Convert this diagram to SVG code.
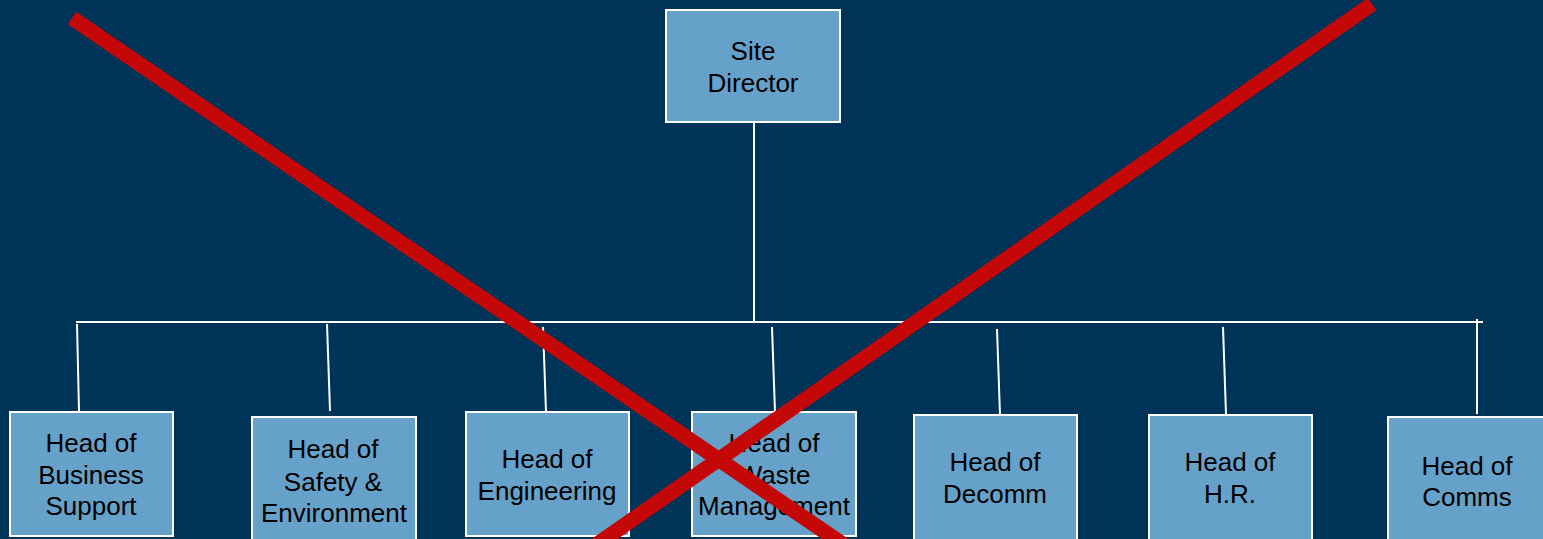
<svg xmlns="http://www.w3.org/2000/svg" width="1543" height="539" viewBox="0 0 1543 539">
<style>
.box{fill:#66A1C9;stroke:#FFFFFF;stroke-width:2}
.lbl{font-family:"Liberation Sans",Arial,sans-serif;font-size:26px;fill:#000000;text-anchor:middle}
.conn{stroke:#FFFFFF;stroke-width:2;fill:none}
.cross{stroke:#C40808;stroke-width:15;stroke-linecap:butt;fill:none}
</style>
<rect x="0" y="0" width="1543" height="539" fill="#003358"/>
<g id="connectors">
<line class="conn" x1="754" y1="122" x2="754" y2="322"/>
<line class="conn" x1="76" y1="322" x2="1483" y2="322"/>
<line class="conn" x1="77" y1="324" x2="79" y2="411"/>
<line class="conn" x1="327" y1="324" x2="330" y2="411"/>
<line class="conn" x1="543" y1="327" x2="546" y2="412"/>
<line class="conn" x1="772" y1="327" x2="775" y2="412"/>
<line class="conn" x1="997" y1="329" x2="1000" y2="415"/>
<line class="conn" x1="1223" y1="327" x2="1226" y2="414"/>
<line class="conn" x1="1477" y1="319" x2="1477" y2="414"/>
</g>
<g id="site-director">
<rect class="box" x="666" y="10" width="174" height="112"/>
<text class="lbl" x="753" y="60">Site</text>
<text class="lbl" x="753" y="92">Director</text>
</g>
<g id="business-support">
<rect class="box" x="10" y="412" width="163" height="124"/>
<text class="lbl" x="91" y="452">Head of</text>
<text class="lbl" x="91" y="484">Business</text>
<text class="lbl" x="91" y="515">Support</text>
</g>
<g id="safety-environment">
<rect class="box" x="252" y="417" width="164" height="130"/>
<text class="lbl" x="333" y="458">Head of</text>
<text class="lbl" x="333" y="491">Safety &amp;</text>
<text class="lbl" x="334" y="522">Environment</text>
</g>
<g id="engineering">
<rect class="box" x="466" y="412" width="163" height="124"/>
<text class="lbl" x="547" y="468">Head of</text>
<text class="lbl" x="547" y="500">Engineering</text>
</g>
<g id="waste-management">
<rect class="box" x="692" y="412" width="164" height="124"/>
<text class="lbl" x="774" y="452">Head of</text>
<text class="lbl" x="774" y="484">Waste</text>
<text class="lbl" x="774" y="515">Management</text>
</g>
<g id="decomm">
<rect class="box" x="914" y="415" width="163" height="130"/>
<text class="lbl" x="995" y="471">Head of</text>
<text class="lbl" x="995" y="503">Decomm</text>
</g>
<g id="hr">
<rect class="box" x="1149" y="415" width="163" height="130"/>
<text class="lbl" x="1230" y="471">Head of</text>
<text class="lbl" x="1230" y="503">H.R.</text>
</g>
<g id="comms">
<rect class="box" x="1388" y="417" width="164" height="130"/>
<text class="lbl" x="1467" y="475">Head of</text>
<text class="lbl" x="1467" y="506">Comms</text>
</g>
<g id="cross">
<line class="cross" x1="72" y1="18" x2="844" y2="545"/>
<line class="cross" x1="1372" y1="4" x2="596" y2="545"/>
</g>
</svg>
